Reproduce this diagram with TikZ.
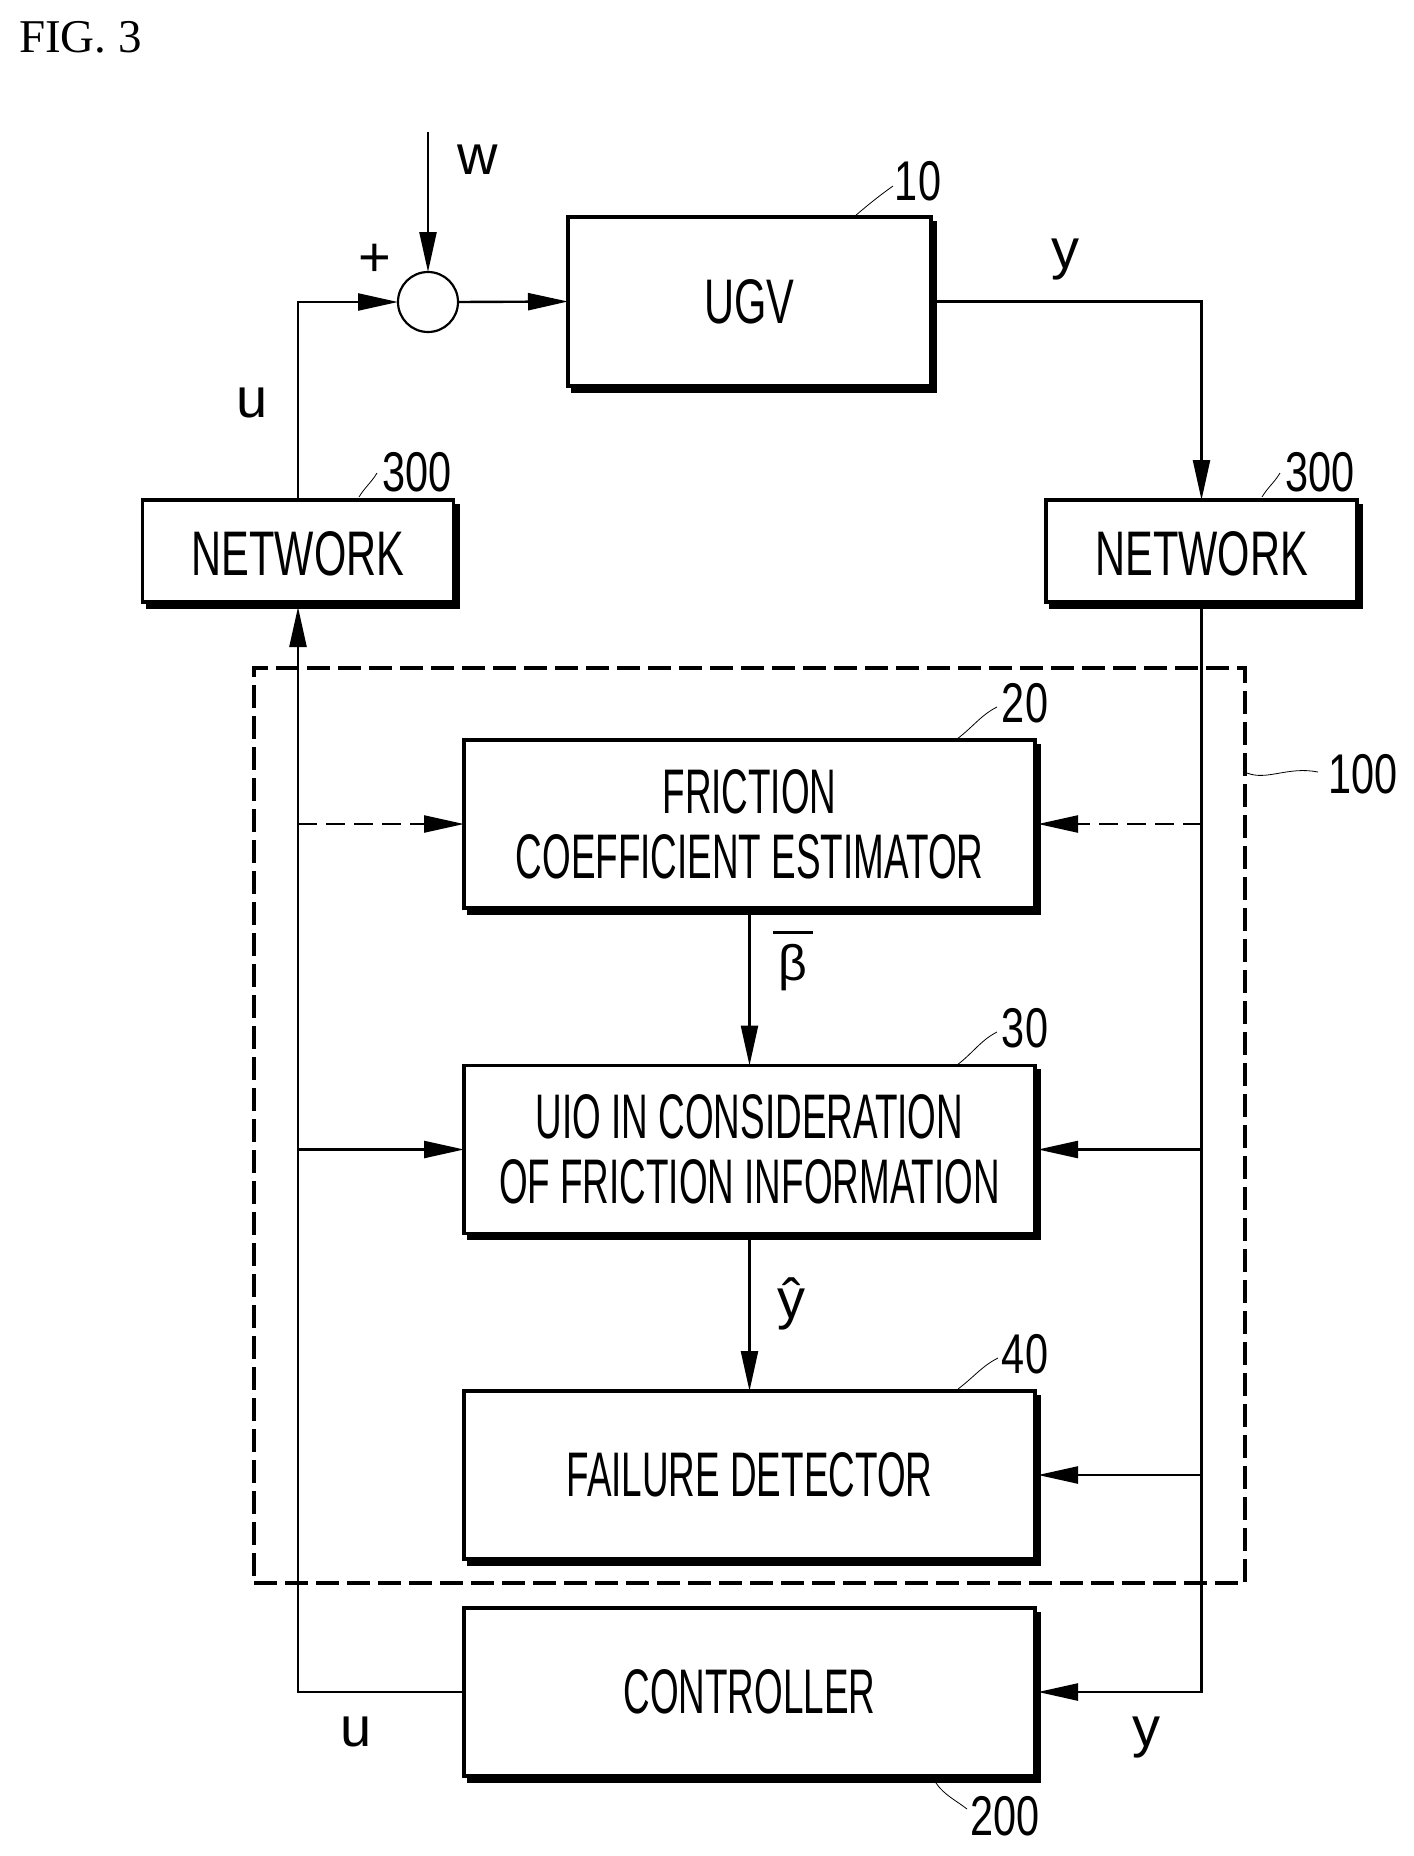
\documentclass[tikz,border=0pt]{standalone}
\usepackage{fontspec}
\usetikzlibrary{arrows.meta,shadows}
\newfontfamily\labfont[FakeStretch=0.66]{Liberation Sans}
\newfontfamily\boxfont[FakeStretch=0.585]{Liberation Sans}
\newfontfamily\numfont[FakeStretch=0.74]{Liberation Sans}
\newfontfamily\letfont{Liberation Sans}
\setmainfont{Liberation Serif}
\tikzset{
  block/.style={draw,line width=3.5pt,outer sep=0pt,fill=white,inner sep=0pt,align=center,
    font=\labfont\fontsize{63}{65}\selectfont,
    general shadow={fill=black,draw=black,line width=3pt,shadow xshift=4.5pt,shadow yshift=-5pt}},
  wide/.style={block,font=\boxfont\fontsize{63}{65}\selectfont,minimum width=571pt,minimum height=168pt},
  net/.style={block,minimum width=311pt,minimum height=102pt,text height=48pt,text depth=0pt},
  conn/.style={line width=2.4pt},
  arr/.style={conn,-{Triangle[length=40pt,width=17pt]}},
  tag/.style={inner sep=0pt,anchor=base,font=\numfont\fontsize{56}{56}\selectfont},
  letter/.style={inner sep=0pt,anchor=base,font=\letfont\fontsize{56}{56}\selectfont},
  lead/.style={line width=0.8pt},
}
\begin{document}
\begin{tikzpicture}[x=1pt,y=-1pt]
\useasboundingbox (0,0) rectangle (1414,1856);
\node[inner sep=0pt,anchor=base west,font=\fontsize{47}{47}\selectfont] (fig) at (19,52) {FIG. 3};
\node[draw,line width=3.5pt,dash pattern=on 23pt off 8pt,minimum width=991pt,minimum height=915pt,inner sep=0pt,outer sep=0pt] (grp) at (749.5,1125.5) {};
\node[block,minimum width=363pt,minimum height=169pt] (ugv) at (749.5,301.5) {UGV};
\node[net] (netl) at (298,551) {NETWORK};
\node[net] (netr) at (1201.5,551) {NETWORK};
\node[wide] (fric) at (749.5,824) {FRICTION\\COEFFICIENT ESTIMATOR};
\node[wide] (uio) at (749.5,1149.5) {UIO IN CONSIDERATION\\OF FRICTION INFORMATION};
\node[wide] (fail) at (749.5,1475) {FAILURE DETECTOR};
\node[wide] (ctrl) at (749.5,1692) {CONTROLLER};
\node[circle,draw,line width=2.2pt,outer sep=0pt,minimum size=60pt,inner sep=0pt] (sum) at (428,302) {};
\coordinate (wtop) at (428,132);
% connectors
\draw[arr] (wtop) -- (sum.north);
\draw[arr] (netl.north) |- (sum.west);
\draw[arr] (sum.east) -- (ugv.west);
\draw[arr] (ugv.east) -| (netr.north);
\draw[arr,shorten >=5pt] (ctrl.west) -| (netl.south);
\draw[arr,shorten >=3pt] (netr.south) |- (ctrl.east);
\draw[arr,dash pattern=on 19pt off 9pt] (netl.south |- fric.west) -- (fric.west);
\draw[arr,dash pattern=on 19pt off 9pt,shorten >=3pt] (netr.south |- fric.east) -- (fric.east);
\draw[arr] (netl.south |- uio.west) -- (uio.west);
\draw[arr,shorten >=3pt] (netr.south |- uio.east) -- (uio.east);
\draw[arr,shorten >=3pt] (netr.south |- fail.east) -- (fail.east);
\draw[arr] (fric.south) -- (uio.north);
\draw[arr] (uio.south) -- (fail.north);
% labels
\node[letter] (lw) at (478,174) {w};
\node[letter] (lplus) at (375,276) {+};
\node[letter] (ly) at (1065,268) {y};
\node[letter] (lu) at (252,417) {u};
\node[letter] (lu2) at (356,1746) {u};
\node[letter] (ly2) at (1146,1746) {y};
\node[letter,font=\letfont\fontsize{50}{50}\selectfont] (lbeta) at (793,980) {β};
\draw[line width=2.5pt] ([xshift=-5pt,yshift=11pt]lbeta.north west) -- ([xshift=5pt,yshift=11pt]lbeta.north east);
\node[letter] (lyhat) at (791,1318) {ŷ};
% reference numerals and lead lines
\node[tag] (n10) at (918,200) {10};
\node[tag] (n300a) at (417,491) {300};
\node[tag] (n300b) at (1320,491) {300};
\node[tag] (n20) at (1025,722) {20};
\node[tag] (n30) at (1025,1047) {30};
\node[tag] (n40) at (1025,1373) {40};
\node[tag] (n100) at (1363,793) {100};
\node[tag] (n200) at (1005,1835) {200};
\coordinate (a10) at (855,216); \coordinate (b10) at (893,186);
\coordinate (a3l) at (359,497); \coordinate (b3l) at (377,473);
\coordinate (a3r) at (1262,497); \coordinate (b3r) at (1280,473);
\coordinate (a20) at (957,739); \coordinate (b20) at (997,707);
\coordinate (a30) at (957,1065); \coordinate (b30) at (997,1032);
\coordinate (a40) at (958,1389); \coordinate (b40) at (998,1358);
\coordinate (a100) at (1247,773); \coordinate (b100) at (1318,772);
\coordinate (a200) at (936,1783); \coordinate (b200) at (967,1809);
\draw[lead] (a10) .. controls +(14,-12) and +(-14,10) .. (b10);
\draw[lead] (a3l) .. controls +(6,-10) and +(-6,10) .. (b3l);
\draw[lead] (a3r) .. controls +(6,-10) and +(-6,10) .. (b3r);
\draw[lead] (a20) .. controls +(16,-12) and +(-16,8) .. (b20);
\draw[lead] (a30) .. controls +(16,-12) and +(-16,8) .. (b30);
\draw[lead] (a40) .. controls +(16,-12) and +(-16,8) .. (b40);
\draw[lead] (a100) .. controls +(20,8) and +(-30,-6) .. (b100);
\draw[lead] (a200) .. controls +(8,12) and +(-10,-8) .. (b200);
\end{tikzpicture}
\end{document}
